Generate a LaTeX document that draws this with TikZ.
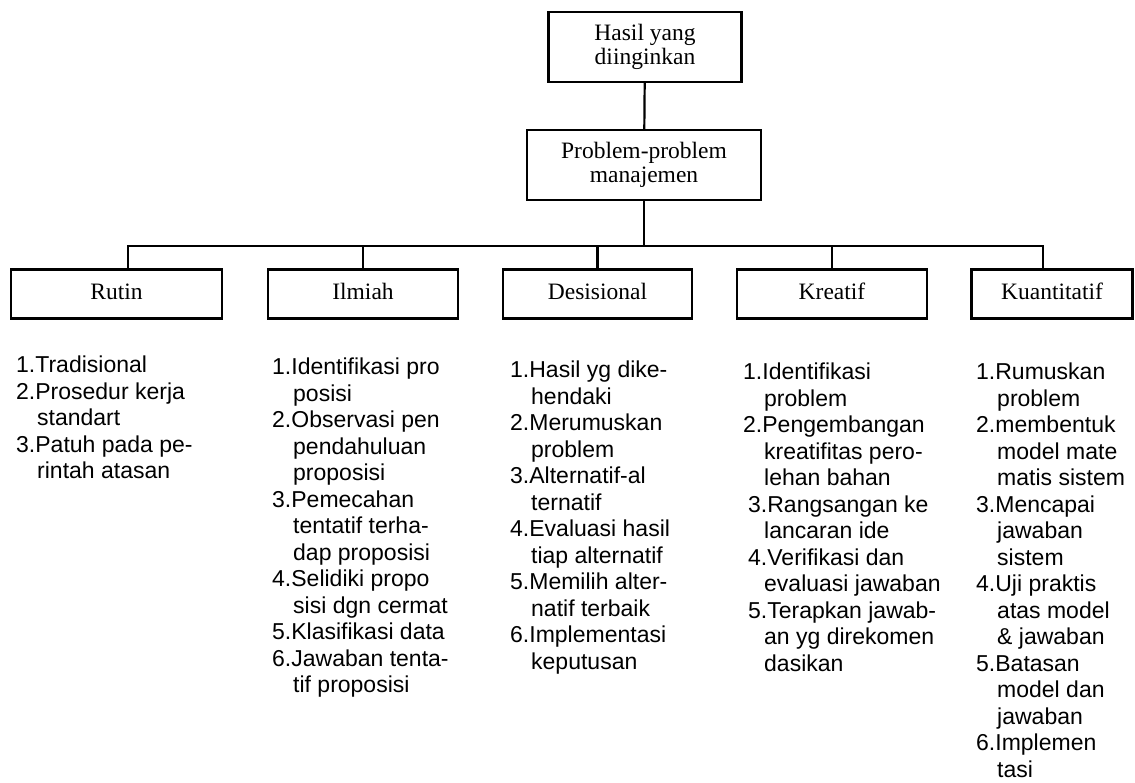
\documentclass[tikz,border=0pt]{standalone}
\usepackage{fontspec}
\setmainfont{Liberation Serif}
\setsansfont{Liberation Sans}
\newcommand{\ind}{\hspace*{21pt}}
\begin{document}
\begin{tikzpicture}[x=1pt, y=-1pt,
  box/.style={draw, line width=2.2pt, inner sep=0pt, minimum height=49pt, align=center, font=\fontsize{23.5}{24}\selectfont},
  kind/.style={box, text height=16pt, text depth=5pt},
  link/.style={line width=2.2pt},
  list/.style={anchor=north west, inner sep=0pt, align=left, font=\sffamily\fontsize{23}{26.5}\selectfont}]
  \useasboundingbox (0,0) rectangle (1135,783);

  \node[box, minimum width=193pt, minimum height=70pt] (hasil) at (645,47) {Hasil yang\\diinginkan};
  \node[box, minimum width=234pt, minimum height=70pt] (problem) at (644,165) {Problem-problem\\manajemen};

  \node[kind, minimum width=211pt] (rutin) at (116.5,294) {Rutin};
  \node[kind, minimum width=190pt] (ilmiah) at (363,294) {Ilmiah};
  \node[kind, minimum width=189pt] (desisional) at (597.5,294) {Desisional};
  \node[kind, minimum width=190pt] (kreatif) at (832,294) {Kreatif};
  \node[kind, minimum width=161pt] (kuantitatif) at (1052,294) {Kuantitatif};

  \coordinate (bus) at (644,246);

  \draw[link] (hasil) -- (problem);
  \draw[link] (problem) -- (bus);
  \draw[link] ([xshift=11.5pt]rutin.north) |- (bus) -| ([xshift=-9pt]kuantitatif.north);
  \draw[link] (ilmiah.north) -- (ilmiah.north |- bus);
  \draw[link] (desisional.north) -- (desisional.north |- bus);
  \draw[link] (kreatif.north) -- (kreatif.north |- bus);

  % langkah-langkah
  \node[list] (lrutin) at (16,356) {1.Tradisional\\2.Prosedur kerja\\\ind standart\\3.Patuh pada pe-\\\ind rintah atasan};
  \node[list] (lilmiah) at (272,358) {1.Identifikasi pro\\\ind posisi\\2.Observasi pen\\\ind pendahuluan\\\ind proposisi\\3.Pemecahan\\\ind tentatif terha-\\\ind dap proposisi\\4.Selidiki propo\\\ind sisi dgn cermat\\5.Klasifikasi data\\6.Jawaban tenta-\\\ind tif proposisi};
  \node[list] (ldesisional) at (510,361) {1.Hasil yg dike-\\\ind hendaki\\2.Merumuskan\\\ind problem\\3.Alternatif-al\\\ind ternatif\\4.Evaluasi hasil\\\ind tiap alternatif\\5.Memilih alter-\\\ind natif terbaik\\6.Implementasi\\\ind keputusan};
  \node[list] (lkreatif) at (743,363) {1.Identifikasi\\\ind problem\\2.Pengembangan\\\ind kreatifitas pero-\\\ind lehan bahan\\\hspace*{5pt}3.Rangsangan ke\\\ind lancaran ide\\\hspace*{5pt}4.Verifikasi dan\\\ind evaluasi jawaban\\\hspace*{5pt}5.Terapkan jawab-\\\ind an yg direkomen\\\ind dasikan};
  \node[list] (lkuantitatif) at (976,363) {1.Rumuskan\\\ind problem\\2.membentuk\\\ind model mate\\\ind matis sistem\\3.Mencapai\\\ind jawaban\\\ind sistem\\4.Uji praktis\\\ind atas model\\\ind \& jawaban\\5.Batasan\\\ind model dan\\\ind jawaban\\6.Implemen\\\ind tasi};
\end{tikzpicture}
\end{document}
